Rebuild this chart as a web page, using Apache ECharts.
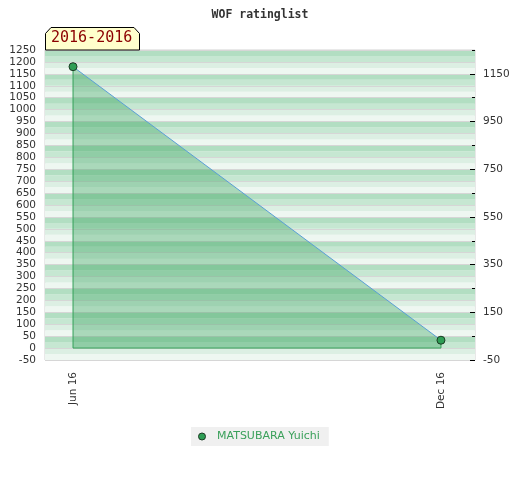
<!DOCTYPE html>
<html>
<head>
<meta charset="utf-8">
<script src="https://cdn.jsdelivr.net/npm/echarts@6/dist/echarts.min.js"></script>
<style>html,body{margin:0;padding:0;background:#fff}#c{width:520px;height:480px}</style>
</head>
<body>
<div id="c"></div>
<script>
// ---- data ----
var titleText = 'WOF ratinglist';
var periodText = '2016-2016';
var seriesName = 'MATSUBARA Yuichi';
var xPositions = [0, 6];             // month index from Jun 2016
var xTickLabels = ['Jun 16', 'Dec 16'];
var ratings = [1180, 33];
var leftTickStep = 50;
var rightTicks = [-50, 150, 350, 550, 750, 950, 1150];
var yMin = -50, yMax = 1250;

var lineData = xPositions.map(function (x, i) { return [x, ratings[i]]; });
var outlineData = [
  [xPositions[0], ratings[0]],
  [xPositions[0], 0],
  [xPositions[xPositions.length - 1], 0],
  [xPositions[xPositions.length - 1], ratings[ratings.length - 1]]
];

var chart = echarts.init(document.getElementById('c'));
var labelFont = { color: '#333', fontSize: 10.5, fontFamily: 'DejaVu Sans' };
function plain(v) { return String(v); }

chart.setOption({
  animation: false,
  title: {
    text: titleText, left: 'center', top: 4,
    textStyle: { fontFamily: 'DejaVu Sans Mono', fontWeight: 'bold', fontSize: 11.5, color: '#333' }
  },
  graphic: [
    {
      type: 'polygon', z: 100,
      shape: { points: [[45.5, 50], [45.5, 33.5], [51, 27.5], [134, 27.5], [139.5, 33.5], [139.5, 50]] },
      style: { fill: '#ffffcc', stroke: '#000', lineWidth: 1 }
    },
    {
      type: 'text', z: 101, left: 51, top: 31,
      style: { text: periodText, fill: '#8b0000', font: '15px "DejaVu Sans Mono"' }
    }
  ],
  legend: {
    top: 427, left: 191,
    backgroundColor: '#f0f0f0', padding: [4, 9, 4, 7],
    itemWidth: 14, itemHeight: 7, symbolKeepAspect: true,
    textStyle: { color: '#3aa05a', fontSize: 11, fontFamily: 'DejaVu Sans', padding: [0, 0, 0, 3] },
    data: [{ name: seriesName, icon: 'circle', itemStyle: { color: '#2e9e55', borderColor: '#1c3b24', borderWidth: 1 } }]
  },
  grid: {
    left: 45, right: 45, top: 50, bottom: 120,
    show: true, borderColor: '#d2d2d2', borderWidth: 1, backgroundColor: 'transparent'
  },
  xAxis: {
    type: 'value', min: -0.457, max: 6.555,
    axisLine: { show: false }, axisTick: { show: false }, splitLine: { show: false },
    axisLabel: Object.assign({}, labelFont, {
      rotate: 90, margin: 12, customValues: xPositions,
      formatter: function (v) { var i = xPositions.indexOf(v); return i >= 0 ? xTickLabels[i] : ''; }
    })
  },
  yAxis: [
    {
      type: 'value', position: 'left', min: yMin, max: yMax, interval: leftTickStep, z: 2,
      axisLine: { show: false }, axisTick: { show: false },
      axisLabel: Object.assign({}, labelFont, { margin: 9, formatter: plain }),
      splitLine: { show: true, lineStyle: { color: '#d6d6d6', width: 1 } }
    },
    {
      type: 'value', position: 'right', min: yMin, max: yMax, z: 3,
      axisLine: { show: false },
      axisTick: { show: true, inside: true, length: 5, customValues: rightTicks, lineStyle: { color: '#000' } },
      axisLabel: Object.assign({}, labelFont, { margin: 8, customValues: rightTicks, formatter: plain }),
      splitLine: { show: false }
    },
    {
      type: 'value', position: 'right', min: yMin, max: yMax, interval: 100, z: 3,
      axisLine: { show: false },
      axisTick: { show: true, inside: true, length: 3, lineStyle: { color: '#000' } },
      axisLabel: { show: false },
      splitLine: { show: false }
    },
    {
      type: 'value', position: 'left', min: yMin, max: yMax, interval: 25, z: 0,
      axisLine: { show: false }, axisTick: { show: false }, axisLabel: { show: false },
      splitLine: { show: false },
      splitArea: { show: true, areaStyle: { color: ['#eef7f1', '#dcefe3', '#c6e7d2', '#b2dec2'] } }
    }
  ],
  series: [
    {
      name: seriesName, type: 'line', yAxisIndex: 0, z: 5,
      data: lineData,
      symbol: 'circle', symbolSize: 8,
      itemStyle: { color: '#2e9e55', borderColor: '#1c3b24', borderWidth: 1 },
      lineStyle: { color: '#5a9fd6', width: 1 },
      areaStyle: { color: 'rgba(45,160,85,0.5)', origin: 0 }
    },
    {
      name: 'outline', type: 'line', yAxisIndex: 0, z: 4, silent: true,
      data: outlineData, symbol: 'none',
      lineStyle: { color: '#36a15a', width: 1 }
    }
  ]
});
</script>
</body>
</html>
